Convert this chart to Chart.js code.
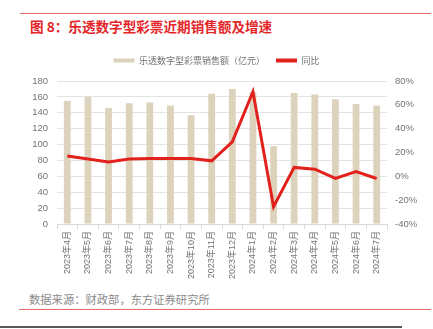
<!DOCTYPE html>
<html>
<head>
<meta charset="utf-8">
<script src="https://cdn.jsdelivr.net/npm/chart.js@4"></script>
<style>
  body { margin: 0; width: 433px; height: 329px; background: #fff; position: relative; overflow: hidden;
         font-family: "Noto Sans CJK SC", "Liberation Sans", sans-serif; }
  .topline { position: absolute; left: 20px; top: 13px; width: 411px; height: 1px; background: #e8706c; }
  .title { position: absolute; left: 30px; top: 16px; font-size: 13.6px; font-weight: bold; color: #e4262a; white-space: nowrap; }
  .chartbox { position: absolute; left: 0; top: 45px; width: 433px; height: 235px; }
  .source { position: absolute; left: 29px; top: 291px; font-size: 11.3px; color: #8a8a8a; white-space: nowrap; }
  .botline { position: absolute; left: 19px; top: 309px; width: 412px; height: 1px; background: #e8706c; }
  .darkline { position: absolute; left: 0; top: 326px; width: 402px; height: 2px; background: #595959; }
</style>
</head>
<body>
<div class="topline"></div>
<div class="title">图 8：乐透数字型彩票近期销售额及增速</div>
<div class="chartbox"><canvas id="myChart"></canvas></div>
<div class="source">数据来源：财政部，东方证券研究所</div>
<div class="botline"></div>
<div class="darkline"></div>
<script>
const months = ["2023年4月", "2023年5月", "2023年6月", "2023年7月", "2023年8月", "2023年9月",
  "2023年10月", "2023年11月", "2023年12月", "2024年1月", "2024年2月", "2024年3月",
  "2024年4月", "2024年5月", "2024年6月", "2024年7月"];
const sales = [155, 160, 146, 152, 153, 149, 137, 164, 170, 166, 98, 165, 163, 157, 151, 149];
const growth = [17, 14.5, 12, 14.5, 15, 15, 15, 13, 29, 71, -25.5, 7.5, 6, -1.8, 4, -1.8];

const gray = "#737373";
const barColor = "#ddd3bd";
const red = "#e3211c";

// make room between the legend and the plot
const legendSpace = {
  id: "legendSpace",
  beforeInit(chart) {
    const fit = chart.legend.fit;
    chart.legend.fit = function () {
      fit.call(this);
      this.height = 36;
    };
  }
};

let myChart = document.getElementById("myChart").getContext("2d");
new Chart(myChart, {
  type: "bar",
  data: {
    labels: months,
    datasets: [
      {
        type: "line",
        label: "同比",
        data: growth,
        yAxisID: "y1",
        borderColor: red,
        backgroundColor: red,
        borderWidth: 3,
        pointRadius: 0,
        tension: 0,
        order: 0
      },
      {
        type: "bar",
        label: "乐透数字型彩票销售额（亿元）",
        data: sales,
        yAxisID: "y",
        backgroundColor: barColor,
        borderWidth: 0,
        barPercentage: 0.33,
        categoryPercentage: 1,
        order: 1
      }
    ]
  },
  options: {
    responsive: true,
    maintainAspectRatio: false,
    animation: false,
    layout: { padding: 0 },
    plugins: {
      tooltip: { enabled: false },
      legend: {
        position: "top",
        labels: {
          boxWidth: 21,
          boxHeight: 4,
          padding: 11,
          color: gray,
          font: { size: 9, family: "Noto Sans CJK SC" },
          generateLabels(chart) {
            return [1, 0].map(i => {
              const ds = chart.data.datasets[i];
              return {
                text: ds.label,
                fillStyle: ds.backgroundColor,
                strokeStyle: ds.backgroundColor,
                lineWidth: 0,
                fontColor: gray,
                datasetIndex: i
              };
            });
          }
        }
      }
    },
    scales: {
      x: {
        grid: { drawOnChartArea: false, drawTicks: true, tickLength: 5, color: "#d9d9d9", offset: true },
        border: { display: true, color: "#d9d9d9" },
        ticks: {
          minRotation: 90,
          maxRotation: 90,
          autoSkip: false,
          padding: 2,
          color: gray,
          font: { size: 9, family: "Liberation Sans, Noto Sans CJK SC" }
        },
        afterFit(scale) { scale.height = 56; }
      },
      y: {
        position: "left",
        min: 0,
        max: 180,
        ticks: { stepSize: 20, padding: 9, color: gray, font: { size: 9.5, family: "Liberation Sans" } },
        grid: { color: "#e3e3e3", drawTicks: false },
        border: { display: false },
        afterFit(scale) { scale.width = 57; }
      },
      y1: {
        position: "right",
        min: -40,
        max: 80,
        ticks: {
          stepSize: 20,
          padding: 8,
          color: gray,
          font: { size: 9.5, family: "Liberation Sans" },
          callback: v => v + "%"
        },
        grid: { drawOnChartArea: false, drawTicks: false },
        border: { display: false },
        afterFit(scale) { scale.width = 46; }
      }
    }
  },
  plugins: [legendSpace]
});
</script>
</body>
</html>
